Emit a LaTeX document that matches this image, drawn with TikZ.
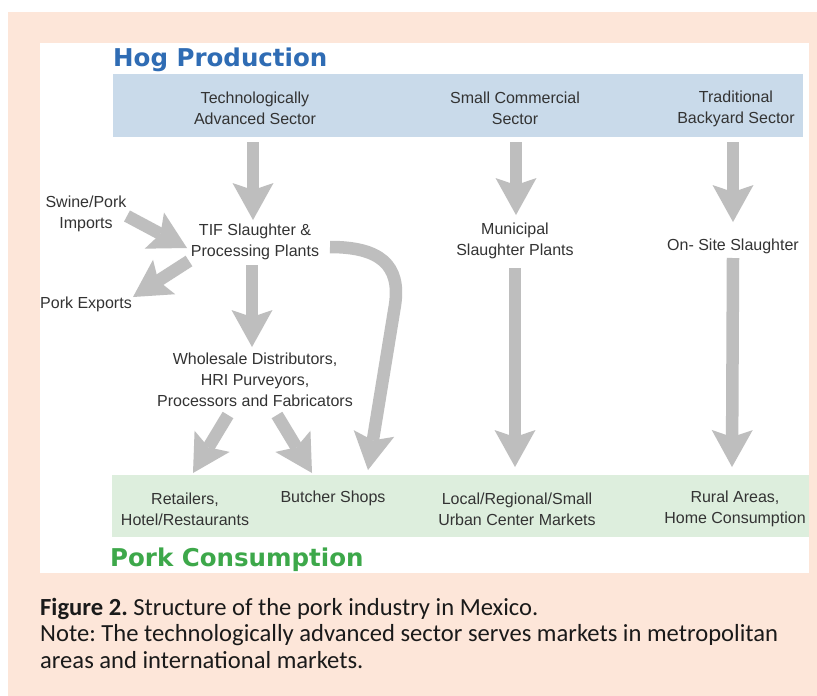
\documentclass[tikz,border=0pt]{standalone}
\usepackage{fontspec}
\setmainfont{Liberation Sans}
\newfontfamily\titlefont{DejaVu Sans}
\newfontfamily\capfont{Carlito}
\usetikzlibrary{arrows.meta,calc}
\definecolor{peach}{HTML}{FDE6D9}
\definecolor{blueband}{HTML}{C9DAEA}
\definecolor{greenband}{HTML}{DDEEDD}
\definecolor{titleblue}{HTML}{2F6CB4}
\definecolor{titlegreen}{HTML}{3DA84A}
\definecolor{arr}{HTML}{BEBEBE}
\definecolor{txt}{HTML}{333333}
\definecolor{captxt}{HTML}{1A1A1A}
\begin{document}
\frenchspacing
\begin{tikzpicture}[x=1pt,y=-1pt,
  lbl/.style={font=\fontsize{16}{21}\selectfont, text=txt, align=center, inner sep=0pt},
  titlestyle/.style={anchor=base west, inner sep=0pt, font=\titlefont\bfseries\fontsize{24.5}{28}\selectfont},
  bigarrow/.style={draw=arr, line width=12.5pt, -{Stealth[length=37pt,width=41pt,inset=7pt,line width=0pt]}},
]
\useasboundingbox (0,0) rectangle (817,696);
\fill[peach] (8,12) rectangle (817,696);
\fill[white] (40,43) rectangle (809,573);
\fill[blueband] (113,74) rectangle (803,137);
\fill[greenband] (112,475) rectangle (809,537);

\node[titlestyle, text=titleblue] (hog) at (113,66) {Hog Production};
\node[titlestyle, text=titlegreen] (pork) at (110,566) {Pork Consumption};

\node[lbl] (tas) at (255,108.5) {Technologically\\Advanced Sector};
\node[lbl] (scs) at (515,108.5) {Small Commercial\\Sector};
\node[lbl] (tbs) at (736,108.5) {Traditional\\Backyard Sector};

\node[lbl] (imports) at (86,214) {Swine/Pork\\Imports};
\node[lbl] (exports) at (86,304) {Pork Exports};
\node[lbl] (tif) at (255,242) {TIF Slaughter \&\\Processing Plants};
\node[lbl] (muni) at (515,240.5) {Municipal\\Slaughter Plants};
\node[lbl] (onsite) at (733,246) {On- Site Slaughter};
\node[lbl] (whole) at (255,380) {Wholesale Distributors,\\HRI Purveyors,\\Processors and Fabricators};

\node[lbl] (retail) at (185,509) {Retailers,\\Hotel/Restaurants};
\node[lbl] (butcher) at (333,498) {Butcher Shops};
\node[lbl] (local) at (517,509) {Local/Regional/Small\\Urban Center Markets};
\node[lbl] (rural) at (735,509) {Rural Areas,\\Home Consumption};

\draw[bigarrow] ($(tas)+(-2,33.5)$) -- ($(tif)+(-2,-22)$);
\draw[bigarrow] ($(scs)+(1,33.5)$) -- ($(muni)+(1,-25.5)$);
\draw[bigarrow] ($(tbs)+(-3,33.5)$) -- ($(onsite)+(0,-24)$);
\draw[bigarrow] ($(muni)+(0,27.5)$) -- ($(local)+(-2,-42)$);
\draw[bigarrow] ($(onsite)+(0,12)$) -- ($(rural)+(-3,-42)$);
\draw[bigarrow] ($(imports)+(41,2)$) -- ($(tif)+(-68,6)$);
\draw[bigarrow] ($(tif)+(-66,19)$) -- ($(exports)+(47,-7)$);
\draw[bigarrow] ($(tif)+(-3,23)$) -- ($(whole)+(-3,-33)$);
\draw[bigarrow] ($(whole)+(-27,35)$) -- ($(retail)+(8,-36)$);
\draw[bigarrow] ($(whole)+(22,35)$) -- ($(butcher)+(-21,-25)$);
\draw[bigarrow] ($(tif)+(75,5)$) .. controls ($(tif)+(125,5)$) and ($(tif)+(146,23)$) .. ($(tif)+(140,63)$) -- ($(butcher)+(35,-28)$);

\node[anchor=north west, inner sep=0pt, align=left, text=captxt,
  font=\capfont\fontsize{24.6}{26.5}\selectfont] (caption) at (40,598)
  {\textbf{Figure 2.} Structure of the pork industry in Mexico.\\
   Note: The technologically advanced sector serves markets in metropolitan\\
   areas and international markets.};
\end{tikzpicture}
\end{document}
